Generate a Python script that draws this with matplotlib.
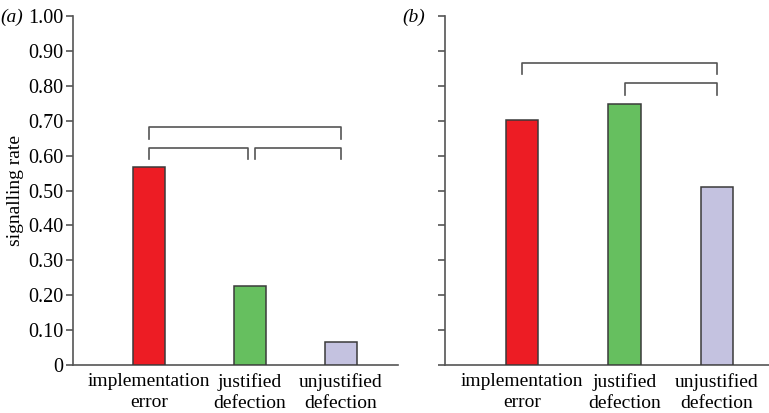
import matplotlib.pyplot as plt
import numpy as np

plt.rcParams['font.family'] = ['Liberation Serif', 'DejaVu Serif']

categories = ['implementation\nerror', 'justified\ndefection', 'unjustified\ndefection']
rates_a = [0.567, 0.226, 0.067]
rates_b = [0.702, 0.748, 0.510]
colours = ['#ED1C24', '#66BF5F', '#C4C2E0']
ticks = np.round(np.arange(0, 1.01, 0.1), 2)
tick_labels = ['0'] + ['%.2f' % t for t in ticks[1:]]

# brackets: (from bar, to bar, level, drop)
brackets_a = [(0, 2, 0.683, 0.035), (0, 1, 0.622, 0.032), (1, 2, 0.622, 0.032)]
brackets_b = [(0, 2, 0.865, 0.032), (1, 2, 0.808, 0.034)]

xpos = [0, 1, 1.9]
spine_col = '#555555'

fig = plt.figure(figsize=(7.69, 4.13), dpi=100)
ax1 = fig.add_axes([73/769, 48/413, 325/769, 349/413])
ax2 = fig.add_axes([445/769, 48/413, 330/769, 349/413])


def draw_panel(ax, rates, brackets, labels):
    ax.bar(xpos, rates, width=0.317, color=colours, edgecolor='#3a3a3a', linewidth=1.1, zorder=3)
    ax.set_ylim(0, 1.0)
    ax.set_xlim(-0.75, 2.465)
    for s in ['top', 'right']:
        ax.spines[s].set_visible(False)
    for s in ['left', 'bottom']:
        ax.spines[s].set_color(spine_col)
        ax.spines[s].set_linewidth(1.2)
    ax.set_yticks(ticks)
    if labels:
        ax.set_yticklabels(tick_labels)
    else:
        ax.set_yticklabels([])
    ax.set_xticks(xpos)
    ax.set_xticklabels(categories)
    ax.tick_params(axis='x', length=0, pad=6, labelsize=14)
    ax.tick_params(axis='y', length=5, width=1.2, color=spine_col, labelsize=14.5, pad=2)
    for i, j, lev, drop in brackets:
        x0 = xpos[i] + (0.05 if i == 1 and j == 2 and len(brackets) == 3 else 0)
        x1 = xpos[j] - (0.02 if i == 0 and j == 1 else 0)
        ax.plot([x0, x0, x1, x1], [lev - drop, lev, lev, lev - drop],
                color=spine_col, linewidth=1.2, clip_on=False)
    for lab in ax.get_xticklabels():
        lab.set_linespacing(1.3)


draw_panel(ax1, rates_a, brackets_a, True)
draw_panel(ax2, rates_b, brackets_b, False)
ax1.set_ylabel('signalling rate', fontsize=14, labelpad=3)

fig.text(0/769, 1 - 22/413, '(a)', fontsize=14, style='italic')
fig.text(402/769, 1 - 22/413, '(b)', fontsize=14, style='italic')

fig.savefig('out.png', dpi=100)
